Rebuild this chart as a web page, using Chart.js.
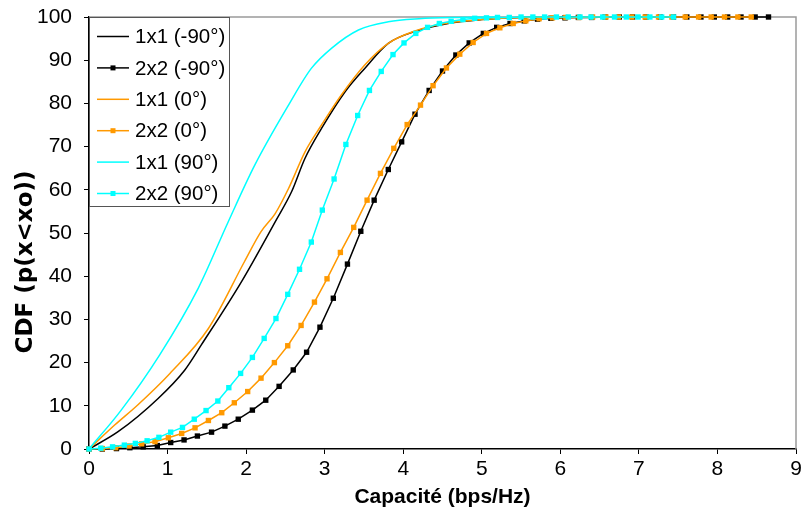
<!DOCTYPE html>
<html>
<head>
<meta charset="utf-8">
<script src="https://cdn.jsdelivr.net/npm/chart.js@4.4.1/dist/chart.umd.min.js"></script>
<style>
html,body{margin:0;padding:0;background:#fff;}
#wrap{width:801px;height:518px;position:relative;}
</style>
</head>
<body>
<div id="wrap"><canvas id="c" width="801" height="518"></canvas></div>
<script>
// ---- data ----
const seriesLabels = ['1x1 (-90°)', '2x2 (-90°)', '1x1 (0°)', '2x2 (0°)', '1x1 (90°)', '2x2 (90°)'];
const xAxisTitle = 'Capacité (bps/Hz)';
const yAxisTitle = 'CDF (p(x<xo))';

const x_1x1_m90 = [0, 0.37, 0.88, 1.22, 1.43, 1.94, 2.37, 2.58, 2.75, 2.96, 3.26, 3.51, 3.81, 4.14, 4.57, 5.0, 5.5, 6.2];
const y_1x1_m90 = [0, 4.0, 11.7, 18.3, 24.1, 38.7, 52.6, 59.6, 67.3, 74.2, 82.7, 88.1, 93.9, 96.6, 98.5, 99.4, 99.9, 100];

const x_2x2_m90 = [0, 0.17, 0.35, 0.52, 0.69, 0.87, 1.04, 1.21, 1.38, 1.56, 1.73, 1.90, 2.08, 2.25, 2.42, 2.60, 2.77, 2.94, 3.11, 3.29, 3.46, 3.63, 3.81, 3.98, 4.15, 4.33, 4.50, 4.67, 4.84, 5.02, 5.19, 5.36, 5.54, 5.71, 5.88, 6.06, 6.23, 6.40, 6.57, 6.75, 6.92, 7.09, 7.27, 7.44, 7.61, 7.79, 7.96, 8.13, 8.30, 8.48, 8.65];
const y_2x2_m90 = [0, 0, 0.1, 0.3, 0.5, 0.8, 1.5, 2.1, 3.0, 3.9, 5.3, 6.9, 9.0, 11.3, 14.5, 18.3, 22.4, 28.2, 34.9, 42.8, 50.4, 57.6, 64.7, 71.1, 77.5, 83.0, 87.5, 91.2, 94.0, 96.2, 97.6, 98.5, 99.1, 99.5, 99.7, 99.8, 99.9, 99.9, 100, 100, 100, 100, 100, 100, 100, 100, 100, 100, 100, 100, 100];

const x_1x1_0 = [0, 0.33, 0.62, 1.03, 1.52, 1.98, 2.19, 2.37, 2.54, 2.75, 2.96, 3.21, 3.51, 3.81, 4.14, 4.57, 5.0, 5.5, 6.0];
const y_1x1_0 = [0, 5.6, 10.2, 17.5, 27.9, 43.4, 50.3, 54.5, 60.3, 68.8, 75.0, 81.9, 88.9, 93.9, 96.7, 98.6, 99.4, 99.9, 100];

const x_2x2_0 = [0, 0.17, 0.34, 0.51, 0.67, 0.84, 1.01, 1.18, 1.35, 1.52, 1.69, 1.85, 2.02, 2.19, 2.36, 2.53, 2.70, 2.87, 3.03, 3.20, 3.37, 3.54, 3.71, 3.88, 4.05, 4.22, 4.38, 4.55, 4.72, 4.89, 5.06, 5.23, 5.40, 5.56, 5.73, 5.90, 6.07, 6.24, 6.41, 6.58, 6.74, 6.91, 7.08, 7.25, 7.42, 7.59, 7.76, 7.92, 8.09, 8.26, 8.43];
const y_2x2_0 = [0, 0.1, 0.3, 0.7, 1.2, 1.7, 2.6, 3.6, 4.9, 6.6, 8.4, 10.7, 13.3, 16.4, 20.0, 23.9, 28.6, 34.0, 39.4, 45.5, 51.3, 57.6, 63.8, 69.6, 75.1, 79.6, 84.1, 88.2, 91.4, 94.1, 96.2, 97.5, 98.5, 99.1, 99.6, 99.8, 99.9, 99.9, 100, 100, 100, 100, 100, 100, 100, 100, 100, 100, 100, 100, 100];

const x_1x1_90 = [0, 0.41, 0.90, 1.39, 1.77, 2.11, 2.54, 2.83, 3.09, 3.43, 3.81, 4.2, 4.7, 5.2];
const y_1x1_90 = [0, 9.0, 21.8, 37.2, 52.5, 65.7, 79.6, 88.1, 92.8, 97.0, 98.9, 99.6, 99.9, 100];

const x_2x2_90 = [0, 0.15, 0.30, 0.45, 0.59, 0.74, 0.89, 1.04, 1.19, 1.34, 1.49, 1.64, 1.78, 1.93, 2.08, 2.23, 2.38, 2.53, 2.68, 2.83, 2.97, 3.12, 3.27, 3.42, 3.57, 3.72, 3.87, 4.01, 4.16, 4.31, 4.46, 4.61, 4.76, 4.91, 5.06, 5.20, 5.35, 5.50, 5.65, 5.80, 5.95, 6.10, 6.25, 6.39, 6.54, 6.69, 6.84, 6.99, 7.14, 7.29, 7.44];
const y_2x2_90 = [0, 0.2, 0.5, 0.9, 1.3, 1.9, 2.7, 3.9, 5.0, 6.9, 8.9, 11.1, 14.2, 17.5, 21.2, 25.6, 30.2, 35.8, 41.6, 47.9, 55.3, 62.5, 70.5, 77.2, 83.0, 87.4, 91.3, 94.0, 96.2, 97.6, 98.5, 99.0, 99.4, 99.7, 99.8, 99.9, 99.9, 100, 100, 100, 100, 100, 100, 100, 100, 100, 100, 100, 100, 100, 100];

const xTickValues = [0, 1, 2, 3, 4, 5, 6, 7, 8, 9];
const yTickValues = [0, 10, 20, 30, 40, 50, 60, 70, 80, 90, 100];

// ---- styles ----
const SANS = "'Liberation Sans', Arial, sans-serif";
const BOLDY = "'DejaVu Sans', 'Liberation Sans', sans-serif";
const BLACK = '#000000', ORANGE = '#FF9900', CYAN = '#00FFFF';

function pts(xs, ys) { return xs.map((x, i) => ({ x: x, y: ys[i] })); }

function lineDs(label, xs, ys, color, idx) {
  return { label, data: pts(xs, ys), borderColor: color, backgroundColor: color,
    borderWidth: 1.5, pointRadius: 0, pointHoverRadius: 0, cubicInterpolationMode: 'monotone',
    fill: false, clip: 8, order: 6 - idx };
}
function markDs(label, xs, ys, color, idx) {
  return { label, data: pts(xs, ys), borderColor: color, backgroundColor: color,
    borderWidth: 1.5, pointStyle: 'rect', pointRadius: 3.8, pointBorderWidth: 0,
    pointBackgroundColor: color, pointBorderColor: color, tension: 0,
    fill: false, clip: 8, order: 6 - idx };
}

const datasets = [
  lineDs(seriesLabels[0], x_1x1_m90, y_1x1_m90, BLACK, 0),
  markDs(seriesLabels[1], x_2x2_m90, y_2x2_m90, BLACK, 1),
  lineDs(seriesLabels[2], x_1x1_0, y_1x1_0, ORANGE, 2),
  markDs(seriesLabels[3], x_2x2_0, y_2x2_0, ORANGE, 3),
  lineDs(seriesLabels[4], x_1x1_90, y_1x1_90, CYAN, 4),
  markDs(seriesLabels[5], x_2x2_90, y_2x2_90, CYAN, 5)
];

const frame = {
  id: 'frame',
  beforeDatasetsDraw(chart) {
    const a = chart.chartArea, ctx = chart.ctx;
    ctx.save();
    ctx.strokeStyle = '#9a9a9a'; ctx.lineWidth = 1.5;
    ctx.beginPath();
    ctx.moveTo(a.left, a.top); ctx.lineTo(a.right, a.top); ctx.lineTo(a.right, a.bottom);
    ctx.stroke();
    ctx.restore();
  }
};

const yTitle = {
  id: 'yTitle',
  afterDraw(chart) {
    const ctx = chart.ctx;
    ctx.save();
    ctx.translate(26, 262);
    ctx.rotate(-Math.PI / 2);
    ctx.fillStyle = '#000';
    ctx.font = "bold 23px " + BOLDY;
    ctx.textAlign = 'center'; ctx.textBaseline = 'middle';
    ctx.fillText(yAxisTitle, 0, 0);
    ctx.restore();
  }
};

const boxLegend = {
  id: 'boxLegend',
  afterDraw(chart) {
    const a = chart.chartArea, ctx = chart.ctx;
    const x0 = a.left, y0 = a.top, w = 141, h = 190;
    ctx.save();
    ctx.fillStyle = '#fff'; ctx.fillRect(x0, y0, w, h);
    ctx.strokeStyle = '#555'; ctx.lineWidth = 1;
    ctx.strokeRect(x0 + 0.5, y0 + 0.5, w - 1, h - 1);
    chart.data.datasets.forEach((ds, i) => {
      const cy = y0 + 19.5 + i * 31.4;
      ctx.strokeStyle = ds.borderColor; ctx.lineWidth = ds.borderWidth;
      ctx.beginPath(); ctx.moveTo(x0 + 8, cy); ctx.lineTo(x0 + 40, cy); ctx.stroke();
      if (ds.pointRadius > 0) {
        ctx.fillStyle = ds.pointBackgroundColor;
        ctx.fillRect(x0 + 24 - 2.5, cy - 2.5, 5, 5);
      }
      ctx.fillStyle = '#000';
      ctx.font = "20.5px " + SANS;
      ctx.textBaseline = 'middle'; ctx.textAlign = 'left';
      ctx.fillText(ds.label, x0 + 46, cy + 1);
    });
    ctx.restore();
  }
};

new Chart(document.getElementById('c'), {
  type: 'line',
  data: { datasets },
  plugins: [frame, yTitle, boxLegend],
  options: {
    responsive: false, animation: false, devicePixelRatio: 1,
    layout: { padding: { top: 17, right: 5, left: 0, bottom: 0 } },
    plugins: { legend: { display: false }, tooltip: { enabled: false } },
    scales: {
      x: {
        type: 'linear', min: 0, max: 9,
        afterBuildTicks(s) { s.ticks = xTickValues.map(v => ({ value: v })); },
        afterFit(s) { s.height = 69; s.paddingLeft = 0; s.paddingRight = 0; },
        ticks: { color: '#000', font: { family: SANS, size: 21 }, padding: 3, maxRotation: 0, autoSkip: false },
        grid: { display: true, drawOnChartArea: false, drawTicks: true, tickLength: 5, color: '#000', lineWidth: 1 },
        border: { display: true, color: '#000', width: 1.5 },
        title: { display: true, text: xAxisTitle, color: '#000',
          font: { family: SANS, size: 21, weight: 'bold' }, padding: { top: 0, bottom: 8 } }
      },
      y: {
        type: 'linear', min: 0, max: 100,
        afterBuildTicks(s) { s.ticks = yTickValues.map(v => ({ value: v })); },
        afterFit(s) { s.width = 89; s.paddingTop = 0; s.paddingBottom = 0; },
        ticks: { color: '#000', font: { family: SANS, size: 21 }, padding: 12, autoSkip: false },
        grid: { display: true, drawOnChartArea: false, drawTicks: true, tickLength: 5, color: '#000', lineWidth: 1 },
        border: { display: true, color: '#000', width: 1.5 },
        title: { display: false, text: yAxisTitle }
      }
    }
  }
});
</script>
</body>
</html>
